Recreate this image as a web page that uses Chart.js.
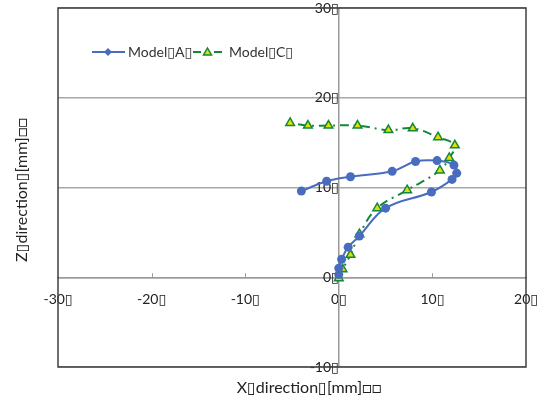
<!DOCTYPE html>
<html>
<head>
<meta charset="utf-8">
<script src="https://cdn.jsdelivr.net/npm/chart.js@4.4.1/dist/chart.umd.min.js"></script>
<style>
  html,body{margin:0;padding:0;background:#fff;}
  #wrap{position:relative;width:545px;height:400px;}
</style>
</head>
<body>
<div id="wrap"><canvas id="c" width="545" height="400"></canvas></div>
<script>
// data
const modelAx = [0, 0, 0.3, 1.0, 2.2, 5.0, 9.9, 12.1, 12.6, 12.3, 10.5, 8.2, 5.7, 1.25, -1.3, -4.0];
const modelAy = [0.3, 1.0, 2.0, 3.35, 4.6, 7.7, 9.5, 10.9, 11.6, 12.5, 13.0, 12.9, 11.8, 11.2, 10.7, 9.6];
const modelCx = [0, 0.4, 1.25, 2.2, 4.1, 7.3, 10.8, 11.8, 12.4, 10.6, 7.9, 5.3, 2.0, -1.1, -3.3, -5.2];
const modelCy = [-0.1, 0.9, 2.5, 4.8, 7.7, 9.7, 11.9, 13.3, 14.7, 15.6, 16.6, 16.4, 16.9, 16.9, 16.9, 17.2];
const seriesNames = ['Model\u25AFA\u25AF', 'Model\u25AFC\u25AF'];
const xTitle = 'X\u25AFdirection\u25AF[mm]\u25A1\u25A1';
const yTitle = 'Z\u25AFdirection\u25AF[mm]\u25A1\u25A1';
const xRange = [-30, 20], yRange = [-10, 30];

const FONT = 'Lato, "Open Sans", "DejaVu Sans", sans-serif';
const BLUE = '#4a6cbf', GREEN = '#12883a', YEL = '#e2e000';
const toPts = (xs, ys) => xs.map((x, i) => ({x, y: ys[i]}));

const frame = {
  id: 'frame',
  beforeDatasetsDraw(chart) {
    const {ctx, chartArea: a, scales} = chart;
    ctx.save();
    ctx.strokeStyle = '#404040';
    ctx.lineWidth = 1.5;
    ctx.strokeRect(a.left, a.top, a.right - a.left, a.bottom - a.top);
    // small tick marks on the x axis
    const y0 = scales.y.getPixelForValue(0);
    ctx.strokeStyle = '#9a9a9a';
    ctx.lineWidth = 1;
    [-20, -10, 10].forEach(v => {
      const px = Math.round(scales.x.getPixelForValue(v)) + 0.5;
      ctx.beginPath(); ctx.moveTo(px, y0); ctx.lineTo(px, y0 - 4); ctx.stroke();
    });
    ctx.restore();
  },
  afterDraw(chart) {
    const {ctx} = chart;
    ctx.save();
    ctx.fillStyle = '#222';
    ctx.font = '16px ' + FONT;
    ctx.textAlign = 'center';
    ctx.textBaseline = 'middle';
    ctx.fillText(xTitle, 309, 388);
    ctx.translate(22, 190);
    ctx.rotate(-Math.PI / 2);
    ctx.fillText(yTitle, 0, 0);
    ctx.restore();

    // legend
    ctx.save();
    ctx.font = '14px ' + FONT;
    ctx.textBaseline = 'middle';
    const ly = 52;
    ctx.strokeStyle = BLUE; ctx.lineWidth = 2;
    ctx.beginPath(); ctx.moveTo(92, ly); ctx.lineTo(125, ly); ctx.stroke();
    ctx.fillStyle = BLUE;
    ctx.beginPath(); ctx.moveTo(108, ly - 4); ctx.lineTo(112, ly); ctx.lineTo(108, ly + 4); ctx.lineTo(104, ly); ctx.closePath(); ctx.fill();
    ctx.fillStyle = '#333';
    ctx.fillText(seriesNames[0], 128, ly);
    ctx.strokeStyle = GREEN;
    ctx.beginPath(); ctx.moveTo(193, ly); ctx.lineTo(201, ly); ctx.moveTo(214, ly); ctx.lineTo(222, ly); ctx.stroke();
    ctx.fillStyle = YEL; ctx.strokeStyle = GREEN; ctx.lineWidth = 1.5;
    ctx.beginPath(); ctx.moveTo(207.5, ly - 4); ctx.lineTo(211.5, ly + 3); ctx.lineTo(203.5, ly + 3); ctx.closePath(); ctx.fill(); ctx.stroke();
    ctx.fillStyle = '#333';
    ctx.fillText(seriesNames[1], 229, ly);
    ctx.restore();
  }
};

new Chart(document.getElementById('c'), {
  type: 'scatter',
  data: {
    datasets: [
      {
        label: seriesNames[0],
        data: toPts(modelAx, modelAy),
        showLine: true,
        borderColor: BLUE,
        backgroundColor: BLUE,
        borderWidth: 2,
        tension: 0.4,
        pointStyle: 'circle',
        pointRadius: 4.5,
        pointBorderWidth: 0
      },
      {
        label: seriesNames[1],
        data: toPts(modelCx, modelCy),
        showLine: true,
        borderColor: GREEN,
        backgroundColor: YEL,
        borderWidth: 2,
        borderDash: [9, 5, 2, 5],
        tension: 0.4,
        pointStyle: 'triangle',
        pointRadius: 5,
        pointBorderColor: GREEN,
        pointBorderWidth: 1.5
      }
    ]
  },
  options: {
    responsive: false,
    animation: false,
    layout: {padding: {left: 58, right: 19, top: 8, bottom: 33}},
    plugins: {legend: {display: false}, tooltip: {enabled: false}},
    scales: {
      x: {
        type: 'linear',
        min: xRange[0], max: xRange[1],
        position: {y: 0},
        afterFit: s => { s.paddingLeft = 0; s.paddingRight = 0; },
        grid: {display: false, drawTicks: false},
        border: {color: '#9a9a9a', width: 1.5},
        ticks: {stepSize: 10, padding: 14, color: '#222', font: {family: FONT, size: 14},
          callback: v => v + '\u25AF'}
      },
      y: {
        type: 'linear',
        min: yRange[0], max: yRange[1],
        position: {x: 0},
        afterFit: s => { s.paddingTop = 0; s.paddingBottom = 0; },
        grid: {color: '#a8a8a8', lineWidth: 1.5, drawTicks: false},
        border: {color: '#9a9a9a', width: 1.5},
        ticks: {stepSize: 10, padding: 3, color: '#222', font: {family: FONT, size: 14},
          callback: v => v + '\u25AF'}
      }
    }
  },
  plugins: [frame]
});
</script>
</body>
</html>
